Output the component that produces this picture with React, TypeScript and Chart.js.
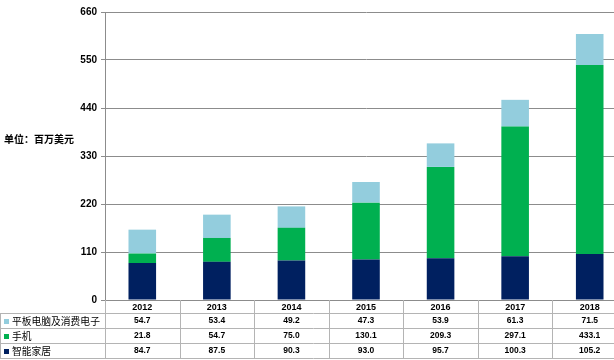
import React, { useEffect, useRef } from "react";
import { Chart, registerables } from "chart.js";
Chart.register(...registerables);

const years = ["2012", "2013", "2014", "2015", "2016", "2017", "2018"];
const tablet = [54.7, 53.4, 49.2, 47.3, 53.9, 61.3, 71.5];
const phone = [21.8, 54.7, 75.0, 130.1, 209.3, 297.1, 433.1];
const home = [84.7, 87.5, 90.3, 93.0, 95.7, 100.3, 105.2];
const yTicks = [0, 110, 220, 330, 440, 550, 660];
const unitLabel = "单位：百万美元";
const tabletName = "平板电脑及消费电子";
const phoneName = "手机";
const homeName = "智能家居";

const C_TABLET = "#93CDDD";
const C_PHONE = "#00B050";
const C_HOME = "#002060";

const CJK = "'Noto Sans CJK SC', 'Noto Sans', sans-serif";
const NUM = "'Liberation Sans', Arial, sans-serif";

const tablePlugin = {
  id: "dataTable",
  afterDraw(chart: any) {
    const ctx = chart.ctx as CanvasRenderingContext2D;
    const { left, right, bottom } = chart.chartArea;
    const xs = chart.scales.x;
    const n = years.length;
    const colW = (right - left) / n;
    const rows = [bottom, bottom + 13, bottom + 28, bottom + 43, bottom + 58];
    ctx.save();
    ctx.strokeStyle = "#b4b4b4";
    ctx.lineWidth = 1;
    ctx.beginPath();
    for (let r = 1; r < rows.length; r++) {
      const y = Math.round(rows[r]) + 0.5;
      ctx.moveTo(0, y);
      ctx.lineTo(right, y);
    }
    for (let i = 1; i <= n; i++) {
      const x = Math.round(left + i * colW) + 0.5;
      ctx.moveTo(x, rows[0]);
      ctx.lineTo(x, rows[4]);
    }
    const xl = Math.round(left) + 0.5;
    ctx.moveTo(xl, rows[0]);
    ctx.lineTo(xl, rows[4]);
    ctx.moveTo(0.5, rows[1]);
    ctx.lineTo(0.5, rows[4]);
    ctx.stroke();

    ctx.fillStyle = "#000";
    ctx.textAlign = "center";
    ctx.textBaseline = "middle";
    const series = [tablet, phone, home];
    for (let i = 0; i < n; i++) {
      const cx = xs.getPixelForValue(i);
      ctx.font = `bold 9px ${NUM}`;
      ctx.fillText(years[i], cx, (rows[0] + rows[1]) / 2 + 1);
      ctx.font = `bold 8.5px ${NUM}`;
      for (let s = 0; s < 3; s++) {
        ctx.fillText(series[s][i].toFixed(1), cx, (rows[s + 1] + rows[s + 2]) / 2 + 0.5);
      }
    }
    const names = [tabletName, phoneName, homeName];
    const cols = [C_TABLET, C_PHONE, C_HOME];
    ctx.textAlign = "left";
    let size = 10.5;
    ctx.font = `${size}px ${CJK}`;
    const w = ctx.measureText(tabletName).width;
    if (w > 88) size = (size * 88) / w;
    for (let s = 0; s < 3; s++) {
      const cy = (rows[s + 1] + rows[s + 2]) / 2;
      ctx.fillStyle = cols[s];
      ctx.fillRect(4, Math.round(cy) - 2, 5, 5);
      ctx.fillStyle = "#000";
      ctx.font = `${size}px ${CJK}`;
      ctx.fillText(names[s], 12, cy + 0.5);
    }
    ctx.font = `bold 10px ${CJK}`;
    ctx.fillText(unitLabel, 4, 139);
    ctx.restore();
  },
};

export default function App() {
  const ref = useRef<HTMLCanvasElement | null>(null);
  useEffect(() => {
    if (!ref.current) return;
    const chart = new Chart(ref.current, {
      type: "bar",
      data: {
        labels: years,
        datasets: [
          { label: homeName, data: home, backgroundColor: C_HOME },
          { label: phoneName, data: phone, backgroundColor: C_PHONE },
          { label: tabletName, data: tablet, backgroundColor: C_TABLET },
        ],
      },
      options: {
        responsive: false,
        animation: false,
        devicePixelRatio: 1,
        layout: { padding: { left: 0, top: 12, right: 3, bottom: 60 } },
        datasets: { bar: { categoryPercentage: 1, barPercentage: 0.37 } } as any,
        plugins: { legend: { display: false }, tooltip: { enabled: false } },
        scales: {
          x: { stacked: true, display: false },
          y: {
            stacked: true,
            min: 0,
            max: 660,
            afterBuildTicks: (s: any) => {
              s.ticks = yTicks.map((v) => ({ value: v }));
            },
            afterFit: (s: any) => {
              s.width = 105;
            },
            grid: { color: "#8c8c8c", tickLength: 4 },
            border: { color: "#8c8c8c" },
            ticks: {
              color: "#000",
              padding: 4,
              font: { family: NUM, weight: "bold", size: 10 },
            },
          },
        },
      },
      plugins: [tablePlugin],
    });
    return () => chart.destroy();
  }, []);
  return (
    <div
      style={{
        position: "fixed",
        left: 0,
        top: 0,
        width: 614,
        height: 360,
        overflow: "hidden",
        background: "#fff",
      }}
    >
      <canvas ref={ref} width={630} height={360} />
    </div>
  );
}
